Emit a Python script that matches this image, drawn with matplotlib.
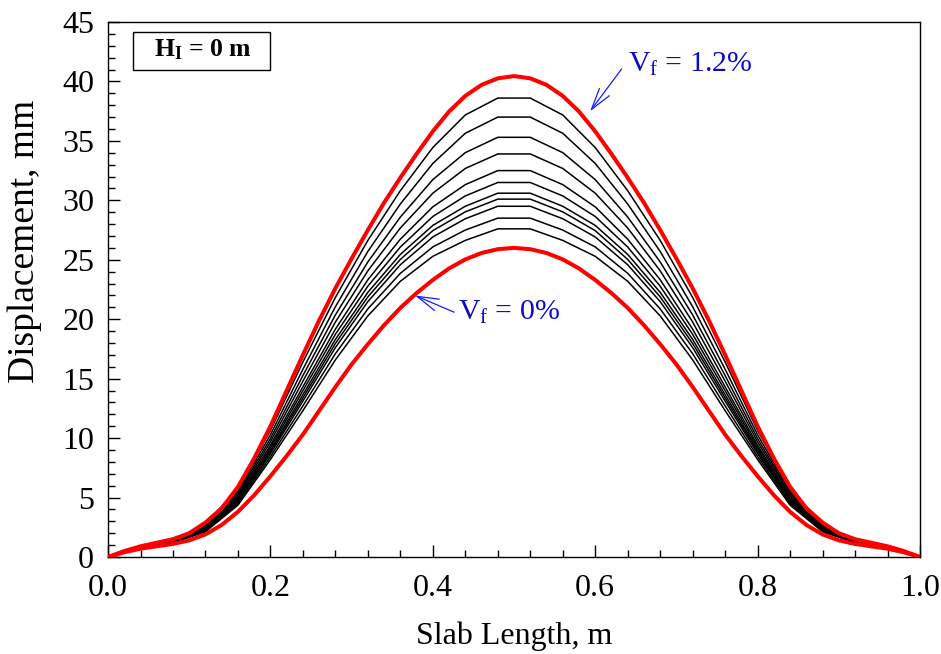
import matplotlib
matplotlib.use('Agg')
import matplotlib.pyplot as plt
from matplotlib.patches import Rectangle
from matplotlib.ticker import MultipleLocator, FormatStrFormatter

plt.rcParams['font.family'] = ['Liberation Serif', 'DejaVu Serif']
plt.rcParams['mathtext.fontset'] = 'custom'
plt.rcParams['mathtext.rm'] = 'Liberation Serif'
plt.rcParams['mathtext.it'] = 'Liberation Serif:italic'
plt.rcParams['mathtext.bf'] = 'Liberation Serif:bold'

# slab positions (m) for the intermediate curves
x_pos = [0.00, 0.04, 0.08, 0.12, 0.16, 0.20, 0.24, 0.28, 0.32, 0.36, 0.40, 0.44, 0.48,
         0.52, 0.56, 0.60, 0.64, 0.68, 0.72, 0.76, 0.80, 0.84, 0.88, 0.92, 0.96, 1.00]

# finer positions for the two bounding curves (Vf = 0% and 1.2%)
x_fine = [0.00, 0.02, 0.04, 0.06, 0.08, 0.10, 0.12, 0.14, 0.16, 0.18, 0.20, 0.22, 0.24,
          0.26, 0.28, 0.30, 0.32, 0.34, 0.36, 0.38, 0.40, 0.42, 0.44, 0.46, 0.48, 0.50,
          0.52, 0.54, 0.56, 0.58, 0.60, 0.62, 0.64, 0.66, 0.68, 0.70, 0.72, 0.74, 0.76,
          0.78, 0.80, 0.82, 0.84, 0.86, 0.88, 0.90, 0.92, 0.94, 0.96, 0.98, 1.00]

# displacement (mm)
vf_00 = [0, 0.40, 0.70, 0.90, 1.10, 1.40, 1.90, 2.70, 3.80, 5.20, 6.80, 8.50, 10.30,
         12.30, 14.30, 16.20, 17.90, 19.50, 20.95, 22.20, 23.30, 24.27, 25.03, 25.57, 25.89, 26.00,
         25.89, 25.57, 25.03, 24.27, 23.30, 22.20, 20.95, 19.50, 17.90, 16.20, 14.30, 12.30,
         10.30, 8.50, 6.80, 5.20, 3.80, 2.70, 1.90, 1.40, 1.10, 0.90, 0.70, 0.40, 0]
vf_12 = [0, 0.50, 0.90, 1.20, 1.50, 2.00, 2.90, 4.10, 5.90, 8.30, 11.00, 14.00, 17.00,
         19.90, 22.60, 25.10, 27.50, 29.80, 31.90, 33.90, 35.80, 37.47, 38.78, 39.71, 40.26, 40.45,
         40.26, 39.71, 38.78, 37.47, 35.80, 33.90, 31.90, 29.80, 27.50, 25.10, 22.60, 19.90,
         17.00, 14.00, 11.00, 8.30, 5.90, 4.10, 2.90, 2.00, 1.50, 1.20, 0.90, 0.50, 0]

vf_01 = [0, 0.76, 1.19, 2.13, 4.36, 8.20, 12.31, 16.58, 20.28, 23.19, 25.29, 26.63, 27.60,
         27.60, 26.63, 25.29, 23.19, 20.28, 16.58, 12.31, 8.20, 4.36, 2.13, 1.19, 0.76, 0]
vf_02 = [0, 0.77, 1.21, 2.20, 4.49, 8.44, 12.71, 17.10, 20.87, 23.86, 26.08, 27.50, 28.50,
         28.50, 27.50, 26.08, 23.86, 20.87, 17.10, 12.71, 8.44, 4.49, 2.20, 1.21, 0.77, 0]
vf_03 = [0, 0.78, 1.23, 2.26, 4.62, 8.68, 13.11, 17.61, 21.48, 24.58, 26.92, 28.45, 29.50,
         29.50, 28.45, 26.92, 24.58, 21.48, 17.61, 13.11, 8.68, 4.62, 2.26, 1.23, 0.78, 0]
vf_04 = [0, 0.79, 1.24, 2.31, 4.71, 8.84, 13.38, 17.96, 21.88, 25.03, 27.45, 29.03, 30.10,
         30.10, 29.03, 27.45, 25.03, 21.88, 17.96, 13.38, 8.84, 4.71, 2.31, 1.24, 0.79, 0]
vf_05 = [0, 0.80, 1.25, 2.35, 4.80, 9.00, 13.65, 18.30, 22.26, 25.45, 27.89, 29.50, 30.60,
         30.60, 29.50, 27.89, 25.45, 22.26, 18.30, 13.65, 9.00, 4.80, 2.35, 1.25, 0.80, 0]
vf_06 = [0, 0.81, 1.27, 2.41, 4.91, 9.20, 13.99, 18.73, 22.78, 26.07, 28.64, 30.37, 31.50,
         31.50, 30.37, 28.64, 26.07, 22.78, 18.73, 13.99, 9.20, 4.91, 2.41, 1.27, 0.81, 0]
vf_07 = [0, 0.82, 1.28, 2.46, 5.02, 9.40, 14.32, 19.16, 23.32, 26.73, 29.45, 31.32, 32.50,
         32.50, 31.32, 29.45, 26.73, 23.32, 19.16, 14.32, 9.40, 5.02, 2.46, 1.28, 0.82, 0]
vf_08 = [0, 0.83, 1.30, 2.54, 5.17, 9.68, 14.79, 19.76, 24.07, 27.67, 30.60, 32.68, 33.90,
         33.90, 32.68, 30.60, 27.67, 24.07, 19.76, 14.79, 9.68, 5.17, 2.54, 1.30, 0.83, 0]
vf_09 = [0, 0.85, 1.32, 2.61, 5.33, 9.96, 15.26, 20.36, 24.82, 28.59, 31.74, 34.01, 35.30,
         35.30, 34.01, 31.74, 28.59, 24.82, 20.36, 15.26, 9.96, 5.33, 2.61, 1.32, 0.85, 0]
vf_10 = [0, 0.86, 1.35, 2.70, 5.50, 10.28, 15.79, 21.05, 25.70, 29.69, 33.10, 35.64, 37.00,
         37.00, 35.64, 33.10, 29.69, 25.70, 21.05, 15.79, 10.28, 5.50, 2.70, 1.35, 0.86, 0]
vf_11 = [0, 0.88, 1.37, 2.80, 5.70, 10.64, 16.40, 21.83, 26.63, 30.81, 34.44, 37.18, 38.60,
         38.60, 37.18, 34.44, 30.81, 26.63, 21.83, 16.40, 10.64, 5.70, 2.80, 1.37, 0.88, 0]

middle_curves = [vf_01, vf_02, vf_03, vf_04, vf_05, vf_06, vf_07, vf_08, vf_09, vf_10, vf_11]

fig = plt.figure(figsize=(9.41, 6.54), dpi=100)
ax = fig.add_axes([0.1148, 0.1483, 0.8629, 0.8181])

for y in middle_curves:
    ax.plot(x_pos, y, color='black', lw=1.1, zorder=2)
ax.plot(x_fine, vf_00, color='#ff0000', lw=2.9, zorder=3)
ax.plot(x_fine, vf_12, color='#ff0000', lw=2.9, zorder=3)

ax.set_xlim(0, 1.0)
ax.set_ylim(0, 45)
ax.xaxis.set_major_locator(MultipleLocator(0.2))
ax.xaxis.set_minor_locator(MultipleLocator(0.04))
ax.yaxis.set_major_locator(MultipleLocator(5))
ax.yaxis.set_minor_locator(MultipleLocator(1))
ax.xaxis.set_major_formatter(FormatStrFormatter('%.1f'))
ax.tick_params(which='both', direction='in', top=False, right=False, width=1.0, labelsize=23)
ax.tick_params(which='major', length=8.5)
ax.tick_params(which='minor', length=5)
ax.tick_params(axis='x', pad=12)
ax.tick_params(axis='y', pad=10)
for s in ax.spines.values():
    s.set_linewidth(1.0)

ax.set_xlabel('Slab Length, m', fontsize=23)
ax.set_ylabel('Displacement, mm', fontsize=27)
ax.xaxis.set_label_coords(0.5, -0.121)
ax.yaxis.set_label_coords(-0.081, 0.59)

# H_I box
ax.add_patch(Rectangle((0.031, 0.910), 0.1685, 0.071, transform=ax.transAxes,
                       fc='white', ec='black', lw=1.0, zorder=5))
ax.text(0.1164, 0.935, r'$\mathbf{H_I}$' + ' = 0 m', transform=ax.transAxes,
        fontsize=18.5, fontweight='bold', ha='center', va='baseline', zorder=6)

txt_col = '#0a0ac8'
arr_col = '#1a1aff'
arr_style = '->, head_length=0.6, head_width=0.17'
ax.annotate('', xy=(0.5916, 37.3), xytext=(0.6346, 41.24),
            arrowprops=dict(arrowstyle=arr_style, color=arr_col, lw=0.9, mutation_scale=26))
ax.text(0.640, 40.8, r'V$_\mathrm{f}$ = 1.2%', color=txt_col, fontsize=21.5, va='baseline')
ax.annotate('', xy=(0.3748, 22.09), xytext=(0.4294, 20.5),
            arrowprops=dict(arrowstyle=arr_style, color=arr_col, lw=0.9, mutation_scale=26))
ax.text(0.431, 19.93, r'V$_\mathrm{f}$ = 0%', color=txt_col, fontsize=21.5, va='baseline')

plt.savefig('out.png', dpi=100)
